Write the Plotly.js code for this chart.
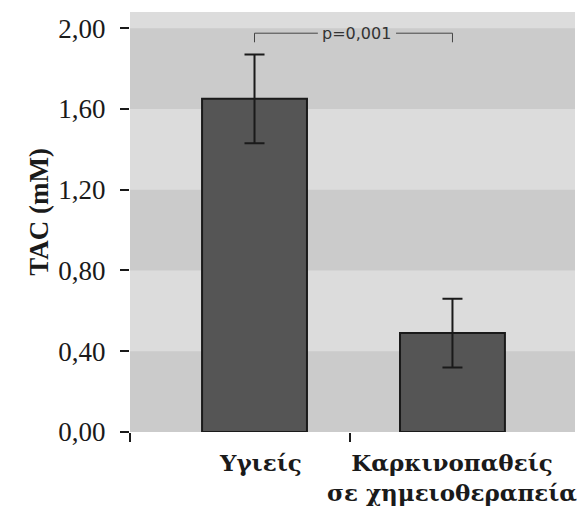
<!DOCTYPE html>
<html>
<head>
<meta charset="utf-8">
<script src="https://cdn.plot.ly/plotly-3.0.1.min.js"></script>
<style>html,body{margin:0;padding:0;background:#fff;}#chart{width:577px;height:508px;}</style>
</head>
<body>
<div id="chart"></div>
<script>
// Data
const categories = ["Υγιείς", "Καρκινοπαθείς<br>σε χημειοθεραπεία"];
const positions = [0, 1];
const tacValues = [1.65, 0.49];
const tacErrors = [0.22, 0.17];
const yTickVals = [0, 0.4, 0.8, 1.2, 1.6, 2.0];
const yTickText = ["0,00", "0,40", "0,80", "1,20", "1,60", "2,00"];
const xTickMarks = [-0.629, 0.482];
const yTitle = "TAC (mM)";
const pLabel = "p=0,001";

const DARK = "#cbcbcb", LIGHT = "#dcdcdc";
const shapes = [];
for (let i = 0; i < yTickVals.length - 1; i += 2) {
  shapes.push({type: "rect", xref: "paper", yref: "y", x0: 0, x1: 1,
    y0: yTickVals[i], y1: yTickVals[i + 1], fillcolor: DARK, line: {width: 0}, layer: "below"});
}
// significance bracket between the two bars, with a gap for the label
shapes.push({type: "path", xref: "x", yref: "y",
  path: `M ${positions[0]},1.93 L ${positions[0]},1.975 L 0.32,1.975 M 0.715,1.975 L ${positions[1]},1.975 L ${positions[1]},1.93`,
  line: {color: "#444", width: 1}});

const trace = {
  type: "bar", x: positions, y: tacValues, width: 0.53,
  marker: {color: "#555555", line: {color: "#1a1a1a", width: 2}},
  error_y: {type: "data", array: tacErrors, visible: true, color: "#1a1a1a", thickness: 2, width: 10},
  hoverinfo: "none"
};
const tickTrace = {type: "scatter", x: [], y: [], xaxis: "x2", yaxis: "y", showlegend: false};

const catAnnotations = categories.map((c, i) => ({
  x: positions[i], y: -0.035, xref: "x", yref: "paper", text: c, showarrow: false,
  xanchor: "center", yanchor: "top", xshift: i === 0 ? 6 : 0,
  font: {family: "DejaVu Serif", size: 23, color: "#1a1a1a", weight: "bold"}
}));

const layout = {
  width: 577, height: 508,
  margin: {l: 130, r: 2, t: 12, b: 76},
  paper_bgcolor: "#ffffff", plot_bgcolor: LIGHT,
  showlegend: false,
  shapes: shapes,
  xaxis: {
    range: [-0.629, 1.619], tickvals: positions, showticklabels: false,
    ticks: "", showgrid: false, zeroline: false, showline: false, fixedrange: true
  },
  xaxis2: {
    overlaying: "x", matches: "x", anchor: "y", side: "bottom",
    tickvals: xTickMarks, ticks: "outside", ticklen: 9, tickwidth: 2, tickcolor: "#1a1a1a",
    showticklabels: false, showgrid: false, zeroline: false, showline: false
  },
  yaxis: {
    range: [0, 2.08], tickvals: yTickVals, ticktext: yTickText,
    ticks: "outside", ticklen: 9, tickwidth: 2, tickcolor: "#1a1a1a",
    showgrid: false, zeroline: false, showline: false,
    tickfont: {family: "Liberation Serif", size: 27, color: "#1a1a1a"},
    ticklabelstandoff: 9
  },
  annotations: [
    {x: 0.515, y: 1.975, xref: "x", yref: "y", text: pLabel, showarrow: false,
     font: {family: "DejaVu Sans", size: 16, color: "#333"}},
    {x: -0.243, y: 0.524, xref: "paper", yref: "paper", text: yTitle, showarrow: false,
     textangle: -90, font: {family: "Liberation Serif", size: 27, color: "#1a1a1a", weight: "bold"}}
  ].concat(catAnnotations)
};
Plotly.newPlot("chart", [trace, tickTrace], layout, {staticPlot: true, displayModeBar: false});
</script>
</body>
</html>
